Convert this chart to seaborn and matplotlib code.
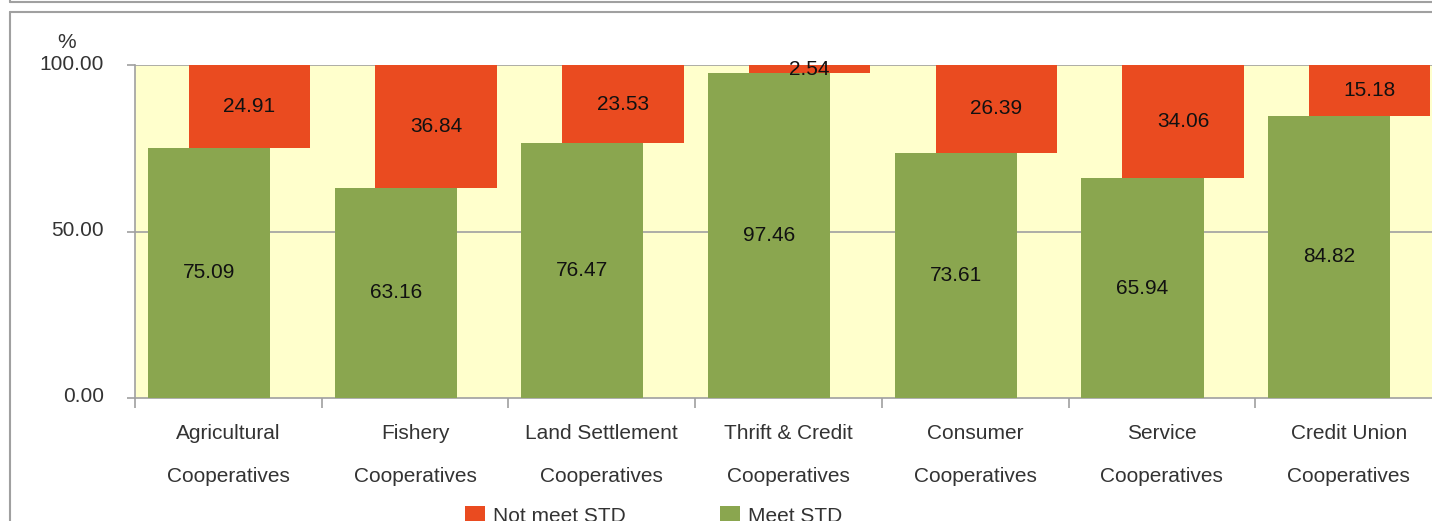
import numpy as np
import pandas as pd
import matplotlib
matplotlib.use("Agg")
import matplotlib.pyplot as plt
from matplotlib.patches import Patch
from matplotlib.lines import Line2D
import matplotlib.transforms as mtransforms
import seaborn as sns

categories = ["Agricultural\nCooperatives", "Fishery\nCooperatives", "Land Settlement\nCooperatives",
              "Thrift & Credit\nCooperatives", "Consumer\nCooperatives", "Service\nCooperatives",
              "Credit Union\nCooperatives"]
meet_std = [75.09, 63.16, 76.47, 97.46, 73.61, 65.94, 84.82]
not_meet_std = [24.91, 36.84, 23.53, 2.54, 26.39, 34.06, 15.18]
y_ticks = [0, 50, 100]

sns.set_theme(style="white")
plt.rcParams['font.family'] = ['Liberation Sans', 'DejaVu Sans']

W, H = 1432, 521
fig = plt.figure(figsize=(W / 100, H / 100), dpi=100)
fig.patch.set_facecolor("white")

GREEN = "#8AA64F"
RED = "#EA4B20"
YELLOW = "#FFFFCC"
GRAY = "#A0A0A0"

# outer frame lines
fig.add_artist(Line2D([10 / W, 1], [1 - 1.5 / H, 1 - 1.5 / H], color=GRAY, lw=1.5))
fig.add_artist(Line2D([10 / W, 10 / W], [1 - 1.5 / H, 1], color=GRAY, lw=1.5))
fig.add_artist(Line2D([10 / W, 1], [1 - 11.5 / H, 1 - 11.5 / H], color=GRAY, lw=1.5))
fig.add_artist(Line2D([10 / W, 10 / W], [0, 1 - 11.5 / H], color=GRAY, lw=1.5))

left, right, top, bottom = 135, 1442, 65, 398
ax = fig.add_axes([left / W, 1 - bottom / H, (right - left) / W, (bottom - top) / H])
ax.set_facecolor(YELLOW)

idx = np.arange(len(categories))
df = pd.DataFrame({"x": idx + 0.396, "meet": meet_std})
sns.barplot(data=df, x="x", y="meet", native_scale=True, width=0.654,
            color=GREEN, saturation=1, linewidth=0, ax=ax, zorder=3)
green_bars = ax.containers[0]
red_bars = ax.bar(idx + 0.613, not_meet_std, width=0.65, bottom=meet_std,
                  color=RED, linewidth=0, zorder=3)

ax.bar_label(green_bars, labels=[f"{v:.2f}" for v in meet_std], label_type="center",
             fontsize=15, color="#111111")
ax.bar_label(red_bars, labels=[f"{v:.2f}" for v in not_meet_std], label_type="center",
             fontsize=15, color="#111111")

ax.set_xlim(0, 7)
ax.set_ylim(0, 100)
ax.set_yticks(y_ticks)
ax.set_yticklabels([f"{v:.2f}" for v in y_ticks], fontsize=15, color="#333333")
ax.set_xticks(idx + 0.5)
ax.set_xticklabels(categories, fontsize=15, color="#333333", linespacing=2.6)
ax.set_xticks(np.arange(0, 8), minor=True)
ax.tick_params(axis="x", which="major", length=0, pad=18.5)
ax.tick_params(axis="x", which="minor", length=7, width=1.2, color=GRAY, direction="out", bottom=True)
ax.tick_params(axis="y", length=6, width=1.2, color=GRAY, pad=16.5, direction="out", left=True)
ax.set_xlabel("")
ax.set_ylabel("")

shift = mtransforms.ScaledTranslation(0, 3 / 100, fig.dpi_scale_trans)
for lbl in ax.get_yticklabels():
    lbl.set_transform(lbl.get_transform() + shift)

for y in [50, 100]:
    ax.axhline(y, color=GRAY, lw=1.2, zorder=2)

for side in ["left", "bottom"]:
    ax.spines[side].set_visible(True)
    ax.spines[side].set_color(GRAY)
    ax.spines[side].set_linewidth(1.2)
ax.spines["top"].set_visible(False)
ax.spines["right"].set_visible(False)
ax.grid(False)

fig.text(67 / W, 1 - 43 / H, "%", fontsize=15, color="#333333", ha="center", va="center")

handles = [Patch(facecolor=RED, edgecolor="none"), Patch(facecolor=GREEN, edgecolor="none")]
fig.legend(handles, ["Not meet STD", "Meet STD"], loc="upper left",
           bbox_to_anchor=(459 / W, 1 - 500 / H), ncol=2, frameon=False, fontsize=15,
           handlelength=0.95, handleheight=0.95, handletextpad=0.4, columnspacing=4.5,
           labelcolor="#333333", borderaxespad=0, borderpad=0.3)

fig.savefig("out.png", dpi=100)
